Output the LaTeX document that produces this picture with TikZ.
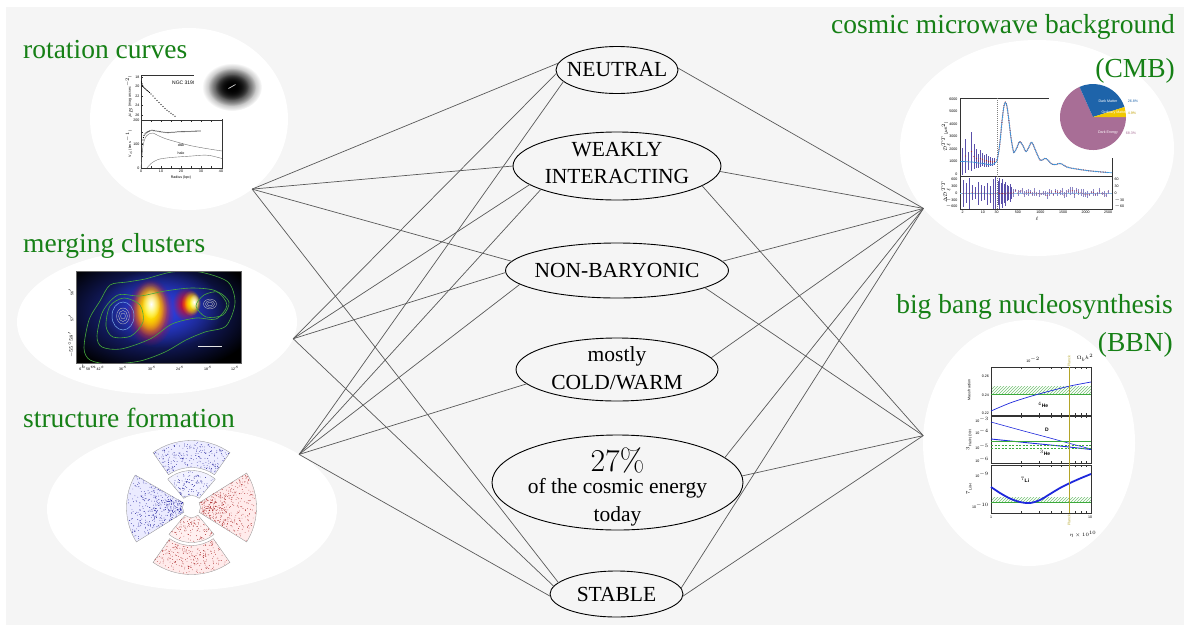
\documentclass[tikz,border=0pt]{standalone}
\usepackage{fontspec}
\setmainfont{Liberation Serif}
\newfontfamily\plotfont{Liberation Sans}
\usetikzlibrary{shapes.geometric,patterns,fadings}
\tikzfading[name=softfade, inner color=transparent!0, outer color=transparent!100]
\definecolor{bggray}{HTML}{F5F5F5}
\definecolor{lblgreen}{RGB}{22,128,22}
\definecolor{mcblue}{RGB}{45,65,230}
\definecolor{cgreen}{RGB}{70,170,60}
\definecolor{ccyan}{RGB}{120,170,235}
\definecolor{cmbblue}{RGB}{60,150,220}
\definecolor{cmbred}{RGB}{170,40,40}
\definecolor{cmbbar}{RGB}{90,80,170}
\definecolor{piemauve}{RGB}{168,110,150}
\definecolor{pieblue}{RGB}{30,100,170}
\definecolor{pieyellow}{RGB}{240,200,0}
\definecolor{planck}{RGB}{180,165,40}
\definecolor{bbnblue}{RGB}{30,40,220}
\definecolor{bbngreen}{RGB}{60,170,60}
\newcommand\sfwedge[7]{%
  \fill[#5, draw=black!45, line width=0.3pt] (#1:#3) arc[start angle=#1, end angle=#2, radius=#3] -- (#2:#4) arc[start angle=#2, end angle=#1, radius=#4] -- cycle;
  \foreach \i in {1,...,#7} {\pgfmathsetmacro\sfa{(#1)+rnd*((#2)-(#1))}\pgfmathsetmacro\sfr{(#3)+1+rnd*((#4)-(#3)-2)}\fill[#6] (\sfa:\sfr) circle (0.35);}
}
\begin{document}
\begin{tikzpicture}[x=1pt,y=-1pt,
  conn/.style={draw=black!65, line width=0.7pt},
  prop/.style={ellipse, draw=black, line width=0.9pt, inner sep=0pt, outer sep=0pt},
  ptext/.style={inner sep=0pt, align=center, font=\fontsize{21.5}{27.3}\selectfont},
  blob/.style={ellipse, fill=white, inner sep=0pt, outer sep=0pt},
  grn/.style={text=lblgreen, inner sep=0pt, font=\fontsize{27.5}{30}\selectfont},
  plab/.style={inner sep=0pt, font=\plotfont\fontsize{3.6}{4}\selectfont},
  plotax/.style={draw=black!80, line width=0.4pt}]

\useasboundingbox (0,0) rectangle (1184,625);
\fill[white] (0,0) rectangle (1184,625);
\fill[bggray] (6,7) rectangle (1184,625);

% ---------- white blobs
\node[blob, minimum width=198pt, minimum height=182pt] (rcb) at (189,119) {};
\node[blob, minimum width=280pt, minimum height=144pt] (mcb) at (157,322) {};
\node[blob, minimum width=290pt, minimum height=162pt] (sfb) at (192,509) {};
\node[blob, minimum width=274pt, minimum height=216pt] (cmbb) at (1037,148) {};
\node[blob, minimum width=212pt, minimum height=246pt] (bbnb) at (1029,443) {};

% ---------- rotation curve plot
\draw[plotax] (141,75) rectangle (222,120);
\draw[plotax] (141,120) rectangle (222,168);
\foreach \yy in {77,86.5,96,105.5,115,132,144,156}{\draw[plotax] (141,\yy) -- (142.8,\yy);}
\foreach \xx in {151,161,...,211}{\draw[plotax] (\xx,168) -- (\xx,166.2); \draw[plotax] (\xx,120) -- (\xx,121.8);}
\foreach \v/\yy [count=\k] in {18/77,20/86.5,22/96,24/105.5,26/115,200/120,100/144,0/168}{\node[plab, anchor=east] (rcy\k) at (139.5,\yy) {\v};}
\foreach \v/\xx [count=\k] in {0/141,10/161,20/181,30/201,40/221}{\node[plab, anchor=north] (rcx\k) at (\xx,170) {\v};}
\node[plab] (rcxt) at (181,177.5) {Radius (kpc)};
\node[plab, rotate=90] (rcyta) at (129,97) {$\mu_B$ (mag arcsec$^{-2}$)};
\node[plab, rotate=90] (rcytb) at (129,144) {V$_c$ (km s$^{-1}$)};
\foreach \xx/\yy in {141.5/82,142/83.8,142.5/85.2,143/86.3,143.8/87.3,144.6/88.2,145.5/89,146.5/89.9,147.5/90.7,148.5/91.6,149.5/92.5,151/94,153/96,155/98.3,157/100.4,159/102.4,161/104.4,163/106.4,165/108.4,167/110.2,169/111.8,171/113.3,173/114.8,175/116.2}{\fill[black] (\xx,\yy) circle (0.6);}
\foreach \xx/\yy in {141.5/160,142/151,142.5/144,143/140,143.5/137.5,144/135.5,145/134,146/133,147/132.3,148/131.8,149/131.2,150/130.8,152/130.3,154/130.6,156/131,158/131.2,160/131.6,162/132,164/132.2,166/132.5,168/132.6,170/132.5,172/132.3,174/132.2,176/132,178/131.8,180/131.7,182/131.6,184/131.6,186/131.5,188/131.5,190/131.4,192/131.3,194/131.2,196/131.1,198/131,200/131}{\fill[black] (\xx,\yy) circle (0.65);}
\draw[black!55, line width=0.4pt] plot[smooth] coordinates {(141,168) (143,146) (146,136.5) (150,133.5) (153,133) (158,135.5) (165,138.5) (175,141.5) (190,145.5) (205,148.3) (222,151)};
\draw[black!55, line width=0.4pt] plot[smooth] coordinates {(147,168) (151,163.5) (158,159.5) (168,157.8) (180,156.8) (192,156) (202,155.2) (210,155.5) (222,158.5)};
\node[plab] (rcdisk) at (181,145.5) {disk};
\node[plab] (rchalo) at (181,153.5) {halo};
\node[plab, font=\plotfont\fontsize{5}{6}\selectfont] (rcngc) at (184,83) {NGC 3198};
\fill[white] (194,62) rectangle (262,119);
\fill[black, path fading=softfade] (232,87) ellipse [x radius=30, y radius=24];
\fill[black, path fading=softfade] (232,87) ellipse [x radius=24, y radius=19];
\fill[black, path fading=softfade] (232,87) ellipse [x radius=17, y radius=13];
\draw[white!65!gray, line width=0.7pt] (228.5,88.5) -- (235.5,84.5);

% ---------- merging clusters image
\begin{scope}
\clip (76,271) rectangle (241,363);
\fill[black] (76,271) rectangle (241,363);
\fill[mcblue!85!black, path fading=softfade] (155,312) ellipse [x radius=105, y radius=62];
\fill[mcblue, path fading=softfade] (162,308) ellipse [x radius=62, y radius=40];
\fill[red, path fading=softfade] (150,312) ellipse [x radius=24, y radius=34];
\fill[orange, path fading=softfade] (150,310) ellipse [x radius=20, y radius=30];
\fill[yellow, path fading=softfade] (150,309) ellipse [x radius=17, y radius=27];
\fill[yellow, path fading=softfade] (150,308) ellipse [x radius=14, y radius=23];
\fill[white, path fading=softfade] (151,304) ellipse [x radius=9, y radius=15];
\fill[red, path fading=softfade] (186,304) ellipse [x radius=14, y radius=17];
\fill[yellow, path fading=softfade] (191,303) ellipse [x radius=10, y radius=13];
\fill[yellow, path fading=softfade] (192,303) ellipse [x radius=8, y radius=11];
\fill[white, path fading=softfade] (194,302) ellipse [x radius=5, y radius=8];
\draw[cgreen, line width=0.6pt] plot[smooth cycle] coordinates {(84,348) (89,320) (100,301) (110,285) (127,282) (145,279) (172,272) (200,272) (228,282) (235,303) (226,326) (205,332) (186,340) (165,352) (140,361) (110,364) (90,360)};
\draw[cgreen, line width=0.6pt] plot[smooth cycle] coordinates {(97,336) (103,311) (118,295) (140,296) (165,291) (192,288) (216,291) (227,305) (216,319) (196,318) (172,324) (150,339) (121,349) (102,347)};
\draw[cgreen, line width=0.6pt] plot[smooth cycle] coordinates {(106,326) (110,306) (124,298) (140,305) (143,322) (131,336) (113,337)};
\draw[cgreen, line width=0.6pt] plot[smooth cycle] coordinates {(196,306) (204,295) (218,292) (229,302) (223,315) (206,317)};
\draw[ccyan, line width=0.5pt] (123,316) ellipse [x radius=11, y radius=14];
\foreach \rr in {3,5.5,8}{\draw[black!25!white, line width=0.35pt] (123,316) ellipse [x radius={0.8*\rr}, y radius=\rr];}
\foreach \rr in {2.5,4.5,6.5}{\draw[black!25!white, line width=0.35pt] (210,304) ellipse [x radius=\rr, y radius={0.75*\rr}];}
\draw[white!80!gray, line width=0.8pt] (198,346) -- (222,346);
\end{scope}
\draw[black!60, line width=0.3pt] (76,271) rectangle (241,363);
\foreach \v/\xx [count=\k] in {6$^h$58$^m$42$^s$/92,36$^s$/123,30$^s$/152,24$^s$/180,18$^s$/208,12$^s$/235}{\node[plab] (mcx\k) at (\xx,368) {\v};}
\foreach \v/\yy [count=\k] in {56$'$/292,57$'$/318,$-55^\circ58'$/345}{\node[plab, rotate=90] (mcy\k) at (71,\yy) {\v};}

% ---------- structure formation image
\begin{scope}[shift={(191.5,507.5)}, yscale=-1]
\pgfmathsetseed{11}
\sfwedge{150}{212}{9}{65}{blue!8}{blue!55!black}{420}
\sfwedge{-32}{32}{9}{65}{red!8}{red!60!black}{420}
\sfwedge{55}{125}{40}{67}{blue!7}{blue!55!black}{240}
\sfwedge{50}{130}{12}{37}{blue!5}{blue!55!black}{110}
\sfwedge{230}{310}{10}{35}{red!6}{red!60!black}{110}
\sfwedge{235}{305}{38}{67}{red!8}{red!60!black}{240}
\end{scope}

% ---------- CMB power spectrum
\draw[plotax] (960,98) rectangle (1112,176);
\draw[plotax] (960,176) rectangle (1112,209);
\draw[black!50, line width=0.3pt, dash pattern=on 1pt off 1pt] (996.7,98) -- (996.7,209);
\foreach \v/\yy [count=\k] in {6000/99,5000/111.5,4000/124,3000/136.5,2000/149,1000/161.5,0/174}{\node[plab, anchor=east] (cmy\k) at (957.5,\yy) {\v};}
\foreach \v/\yy [count=\k] in {600/179,300/186,0/193,$-$300/200,$-$600/206}{\node[plab, anchor=east] (cmr\k) at (957.5,\yy) {\v};}
\foreach \v/\yy [count=\k] in {60/179,30/186,0/193,$-$30/200,$-$60/206}{\node[plab, anchor=west] (cmq\k) at (1114.5,\yy) {\v};}
\foreach \v/\xx [count=\k] in {2/962.7,10/982.9,30/996.7,500/1017.9,1000/1040.4,1500/1063,2000/1085.5,2500/1108}{\node[plab, anchor=north] (cmx\k) at (\xx,211) {\v};}
\node[plab] (cmxt) at (1037,219) {$\ell$};
\node[plab, rotate=90] (cmyt) at (946,137) {$\mathcal{D}_\ell^{TT}$ [$\mu$K$^2$]};
\node[plab, rotate=90] (cmrt) at (946,192) {$\Delta\mathcal{D}_\ell^{TT}$};
\foreach \xx/\t/\b in {962.5/148/175,965.5/139/173,968.5/152/170,971.5/132/171,974/144/169,976.5/149/168,978.5/154/168,980.5/150/167,982.5/153/166,984.5/155/167,986.5/154/167,988.5/156/167,990.5/157/166,992.5/158/166,994.5/158/165}{\draw[cmbbar, line width=0.35pt] (\xx,\t) -- (\xx,\b); \fill[cmbred] (\xx,{(\t+\b)/2}) circle (0.55);}
\draw[cmbred, line width=1.3pt, dash pattern=on 0.6pt off 1.1pt] plot[smooth] coordinates {(996.7,161.5) (998.5,153) (999.9,142.9) (1002.1,120.5) (1003.8,107) (1005.3,102.4) (1006.9,106) (1008.9,120.5) (1011,138) (1013.4,151.6) (1014.3,152.2) (1016.5,148.5) (1019.7,141.6) (1022.8,145.5) (1026,151.6) (1028.9,147) (1031.8,142.3) (1036,151.5) (1040.4,160.3) (1045.8,158.4) (1051.6,164) (1056,164.5) (1060.2,163.4) (1067.4,167.2) (1076.5,169) (1090,170.9) (1108,172.5)};
\draw[cmbblue, line width=0.7pt] plot[smooth] coordinates {(960,161.7) (962.7,161.5) (968,161.8) (974.2,162.2) (978,163) (982.9,163.4) (987,164.3) (991.6,164.7) (994,163.8) (996.7,161.5) (998.5,153) (999.9,142.9) (1002.1,120.5) (1003.8,107) (1005.3,102.4) (1006.9,106) (1008.9,120.5) (1011,138) (1013.4,151.6) (1014.3,152.2) (1016.5,148.5) (1019.7,141.6) (1022.8,145.5) (1026,151.6) (1028.9,147) (1031.8,142.3) (1036,151.5) (1040.4,160.3) (1045.8,158.4) (1051.6,164) (1056,164.5) (1060.2,163.4) (1067.4,167.2) (1076.5,169) (1090,170.9) (1108,172.5) (1112,172.8)};
\draw[cmbblue!60, line width=0.6pt] (960,193) -- (1112,193);
\foreach \xx/\t/\b in {963/180/207,966/183/203,969/178/209,972/185/200,975/187/199,978/182/205,981/185/201,984/186/200,987/183/205,990/186/203,993/179/209,995.5/177/209,998/181/205,999.5/178/209,1001/183/204,1002.5/179/208,1004/184/203,1005.5/182/206,1007/185/201,1008.5/186/200,1010/184/202,1011.5/187/199}{\draw[cmbbar, line width=0.35pt] (\xx,\t) -- (\xx,\b); \fill[cmbred] (\xx,{(\t+\b)/2}) circle (0.5);}
\pgfmathsetseed{5}
\foreach \i in {0,...,45}{\pgfmathsetmacro\xx{1013.5+\i*2.1}\pgfmathsetmacro\yy{193+(rnd-0.5)*5}\pgfmathsetmacro\ee{1.2+rnd*2.8}\draw[cmbbar!70, line width=0.3pt] (\xx,\yy-\ee) -- (\xx,\yy+\ee); \fill[cmbred] (\xx,\yy) circle (0.45);}
% pie chart
\fill[white] (1049,80) rectangle (1135,158);
\begin{scope}[shift={(1093,117)}, yscale=-1]
\fill[piemauve] (0,0) -- (114.1:33) arc[start angle=114.1, end angle=360, radius=33] -- cycle;
\fill[pieblue] (0,0) -- (17.6:33) arc[start angle=17.6, end angle=114.1, radius=33] -- cycle;
\fill[pieyellow] (0,0) -- (0:33) arc[start angle=0, end angle=17.6, radius=33] -- cycle;
\end{scope}
\node[plab, text=white] (pdm) at (1108,101) {Dark Matter};
\node[plab, text=pieblue] (pdmv) at (1133,101) {26.8\%};
\node[plab, text=white] (pom) at (1114,113) {Ordinary Matter};
\node[plab, text=pieyellow!80!black] (pomv) at (1132,113) {4.9\%};
\node[plab, text=white] (pde) at (1108,133) {Dark Energy};
\node[plab, text=piemauve] (pdev) at (1131,133) {68.3\%};

% ---------- BBN plot
\fill[pattern=north east lines, pattern color=bbngreen!70] (991,386) rectangle (1091,393);
\fill[pattern=north east lines, pattern color=bbngreen!70] (991,497) rectangle (1091,502);
\draw[plotax] (991,367) rectangle (1091,415);
\draw[plotax] (991,416) rectangle (1091,463);
\draw[plotax] (991,465) rectangle (1091,513);
\foreach \xx in {1021.1,1038.7,1051.2,1060.9,1068.8,1075.5,1081.3,1086.4}{\foreach \ya/\yb in {367/368.8,415/413.2,416/417.8,463/461.2,465/466.8,513/511.2}{\draw[plotax] (\xx,\ya) -- (\xx,\yb);}}
\draw[bbngreen, line width=0.7pt] (991,394) -- (1091,394);
\draw[bbnblue, line width=0.7pt] plot[smooth] coordinates {(991,411) (1010,403) (1030,396.5) (1050,391) (1070,386) (1091,382)};
\draw[bbnblue, line width=0.6pt] plot[smooth] coordinates {(991,422) (1020,430) (1050,438) (1070,443.5) (1091,449)};
\draw[bbnblue, line width=0.9pt] plot[smooth] coordinates {(991,439) (1030,443) (1060,446) (1091,449.5)};
\draw[bbngreen, line width=0.6pt] (991,441) -- (1091,441);
\draw[bbngreen, line width=0.5pt, dash pattern=on 2pt off 1.5pt] (991,445.5) -- (1091,445.5);
\draw[bbngreen, line width=0.5pt, dash pattern=on 2pt off 1.5pt] (991,448) -- (1091,448);
\draw[bbngreen, line width=0.7pt] (991,502) -- (1091,502);
\draw[bbnblue, line width=1.8pt] plot[smooth] coordinates {(991,487) (1000,493) (1010,498.5) (1020,502) (1030,503) (1040,500) (1050,494) (1060,488) (1070,483) (1080,478.5) (1091,474)};
\draw[planck, line width=0.8pt] (1069,367) -- (1069,513);
\node[plab, rotate=90, text=planck] (pla) at (1069,361) {Planck};
\node[plab, rotate=90, text=planck] (plb) at (1069,520) {Planck};
\node[plab] (bbo) at (1085,358) {$\Omega_b h^2$};
\node[plab] (bbt) at (1033,360) {10$^{-2}$};
\node[plab, rotate=90] (bby1) at (969,390) {Mass fraction};
\node[plab, rotate=90] (bby2) at (969,440) {$^3$He/H, D/H};
\node[plab, rotate=90] (bby3) at (969,489) {$^7$Li/H};
\foreach \v/\yy [count=\k] in {0.26/376,0.24/395,0.22/413,10$^{-3}$/420,10$^{-4}$/432,10$^{-5}$/447,10$^{-6}$/460,10$^{-9}$/475,10$^{-10}$/506}{\node[plab, anchor=east] (bbl\k) at (989,\yy) {\v};}
\node[plab, font=\plotfont\fontsize{5}{6}\bfseries\selectfont] (bhe) at (1043,405) {$^4$He};
\node[plab, font=\plotfont\fontsize{5}{6}\bfseries\selectfont] (bd) at (1047,430) {D};
\node[plab, font=\plotfont\fontsize{5}{6}\bfseries\selectfont] (bhe3) at (1045,453) {$^3$He};
\node[plab, font=\plotfont\fontsize{5}{6}\bfseries\selectfont] (bli) at (1025,480) {$^7$Li};
\node[plab, anchor=north] (bx1) at (991,516) {1};
\node[plab, anchor=north] (bx2) at (1090,516) {10};
\node[plab] (bxt) at (1083,534) {$\eta\times10^{10}$};

% ---------- property ellipses
\node[prop, minimum width=122pt, minimum height=47pt] (neu) at (617,70) {};
\node[prop, minimum width=208pt, minimum height=68pt] (wk) at (617,166) {};
\node[prop, minimum width=223pt, minimum height=55pt] (nb) at (617,270.5) {};
\node[prop, minimum width=202pt, minimum height=63pt] (cw) at (617,369.5) {};
\node[prop, minimum width=251pt, minimum height=95pt] (pct) at (617.5,482.5) {};
\node[prop, minimum width=133pt, minimum height=46pt] (st) at (616.5,594) {};
\node[ptext] (neuT) at (617,70) {NEUTRAL};
\node[ptext] (wkT) at (617,163.3) {WEAKLY\\INTERACTING};
\node[ptext] (nbT) at (617,270.5) {NON-BARYONIC};
\node[ptext] (cwT) at (617,368.2) {mostly\\COLD/WARM};
\node[ptext] (pctT) at (617.5,486.6) {{\fontfamily{lmr}\fontsize{31.8}{32}\selectfont 27\%}\\[-4.9pt]of the cosmic energy\\today};
\node[ptext] (stT) at (616.5,594) {STABLE};

% ---------- hubs and connectors
\coordinate (rch) at (rcb.-48);
\coordinate (mch) at (mcb.-7.1);
\coordinate (sfh) at (sfb.27.4);
\coordinate (cmbh) at (cmbb.208.2);
\coordinate (bbnh) at (bbnb.176.8);
\draw[conn] (rch) -- (neu.173.3);
\draw[conn] (rch) -- (wk.180.6);
\draw[conn] (rch) -- (nb.175);
\draw[conn] (rch) -- (st.169.5);
\draw[conn] (mch) -- (neu.183);
\draw[conn] (mch) -- (wk.192.6);
\draw[conn] (mch) -- (nb.181.3);
\draw[conn] (mch) -- (st.173.8);
\draw[conn] (sfh) -- (neu.192.3);
\draw[conn] (sfh) -- (wk.197.3);
\draw[conn] (sfh) -- (nb.188.1);
\draw[conn] (sfh) -- (cw.189.8);
\draw[conn] (sfh) -- (st.182.6);
\draw[conn] (neu.2.8) -- (cmbh);
\draw[conn] (wk.-3.3) -- (cmbh);
\draw[conn] (wk.-13.9) -- (bbnh);
\draw[conn] (nb.5.7) -- (cmbh);
\draw[conn] (nb.-11) -- (bbnh);
\draw[conn] (cw.7.8) -- (cmbh);
\draw[conn] (pct.13.3) -- (cmbh);
\draw[conn] (pct.3) -- (bbnh);
\draw[conn] (st.5.2) -- (cmbh);
\draw[conn] (st.-2.6) -- (bbnh);

% ---------- green labels
\node[grn, anchor=base west] (rcl) at (23,58) {rotation curves};
\node[grn, anchor=base west] (mcl) at (23,252) {merging clusters};
\node[grn, anchor=base west] (sfl) at (23,427) {structure formation};
\node[grn, anchor=base east] (cmbla) at (1175,33) {cosmic microwave background};
\node[grn, anchor=base east] (cmblb) at (1175,77) {(CMB)};
\node[grn, anchor=base east] (bbnla) at (1173,313) {big bang nucleosynthesis};
\node[grn, anchor=base east] (bbnlb) at (1173,351) {(BBN)};
\end{tikzpicture}
\end{document}
